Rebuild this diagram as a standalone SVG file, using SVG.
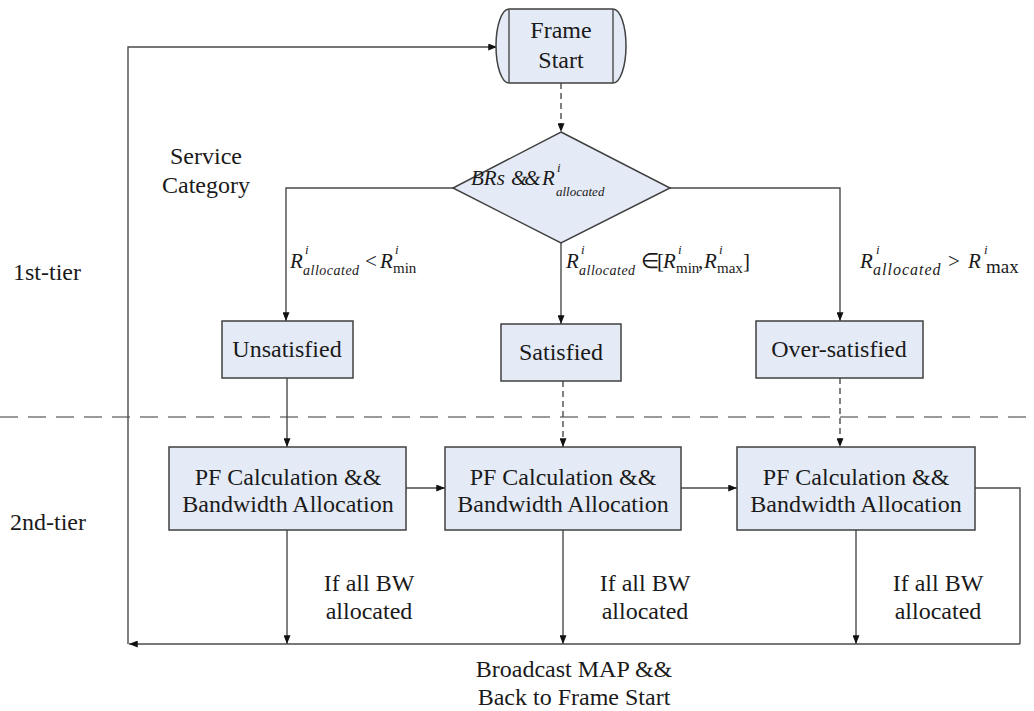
<svg xmlns="http://www.w3.org/2000/svg" width="1034" height="711" viewBox="0 0 1034 711">
  <style>
    .box { fill: #e5ebf6; stroke: #404040; stroke-width: 1.5; }
    .line { fill: none; stroke: #4a4a4a; stroke-width: 1.4; }
    .dash { stroke-dasharray: 6 4; }
    .sep { fill: none; stroke: #7a7a7a; stroke-width: 1.5; stroke-dasharray: 18 10; }
    text { font-family: 'Liberation Serif', 'Times New Roman', serif; fill: #1a1a1a; }
    .t { font-size: 24px; }
    .c { text-anchor: middle; }
    .mi { font-style: italic; font-size: 21px; }
    .mo { font-size: 21px; }
    .sup { font-style: italic; font-size: 13px; }
    .sub { font-style: italic; font-size: 14px; letter-spacing: 0.5px; }
    .sub3 { font-style: italic; font-size: 16px; letter-spacing: 1px; }
    .subr { font-size: 15px; }
  </style>
  <defs>
    <marker id="arr" viewBox="0 0 10 8" refX="10" refY="4" markerWidth="9" markerHeight="7" markerUnits="userSpaceOnUse" orient="auto">
      <path d="M0,0 L10,4 L0,8 Z" fill="#111"/>
    </marker>
  </defs>

  <rect width="1034" height="711" fill="#ffffff"/>

  <!-- tier separator -->
  <line class="sep" x1="0" y1="417" x2="1034" y2="417"/>

  <!-- connectors -->
  <g id="connectors">
    <path class="line" d="M128,644 V47 H497" marker-end="url(#arr)"/>
    <path class="line dash" d="M561,83 V132" marker-end="url(#arr)"/>
    <path class="line" d="M453,188 H286 V321" marker-end="url(#arr)"/>
    <path class="line" d="M561,243 V324" marker-end="url(#arr)"/>
    <path class="line" d="M670,188 H840 V321" marker-end="url(#arr)"/>
    <path class="line" d="M287,378 V447" marker-end="url(#arr)"/>
    <path class="line dash" d="M563,381 V447" marker-end="url(#arr)"/>
    <path class="line dash" d="M840,378 V447" marker-end="url(#arr)"/>
    <path class="line" d="M406,488 H445" marker-end="url(#arr)"/>
    <path class="line" d="M681,488 H737" marker-end="url(#arr)"/>
    <path class="line" d="M975,488 H1020 V644"/>
    <path class="line" d="M287,530 V644" marker-end="url(#arr)"/>
    <path class="line" d="M563,530 V644" marker-end="url(#arr)"/>
    <path class="line" d="M856,530 V644" marker-end="url(#arr)"/>
    <path class="line" d="M1020,644 H129" marker-end="url(#arr)"/>
  </g>

  <!-- start terminal -->
  <g id="frame-start">
    <path class="box" d="M509,9 H613 A13,37 0 0 1 613,83 H509 A13,37 0 0 1 509,9 Z"/>
    <line class="line" x1="509" y1="9" x2="509" y2="83"/>
    <line class="line" x1="613" y1="9" x2="613" y2="83"/>
    <text class="t c" x="561" y="38">Frame</text>
    <text class="t c" x="561" y="68">Start</text>
  </g>

  <!-- decision -->
  <g id="decision">
    <path class="box" d="M561,132 L670,188 L561,243 L453,188 Z"/>
    <text class="mi" x="471" y="185" font-size="22">BRs</text>
    <text class="mi" x="511" y="185" letter-spacing="-3">&amp;&amp;</text>
    <text class="mi" x="542" y="185">R</text>
    <text class="sup" x="557" y="172">i</text>
    <text class="sub" x="556" y="196" style="font-size:13px;letter-spacing:0">allocated</text>
  </g>

  <g id="label-service">
    <text class="t c" x="206" y="164">Service</text>
    <text class="t c" x="206" y="193">Category</text>
  </g>
  <text class="t" x="13" y="280">1st-tier</text>
  <text class="t" x="10" y="530">2nd-tier</text>

  <!-- branch conditions -->
  <g id="cond-under">
    <text class="mi" x="290" y="268">R</text>
    <text class="sup" x="305" y="254">i</text>
    <text class="sub" x="303" y="275">allocated</text>
    <text class="mo" x="365" y="268">&lt;</text>
    <text class="mi" x="380" y="268">R</text>
    <text class="sup" x="395" y="254">i</text>
    <text class="subr" x="393" y="273">min</text>
  </g>
  <g id="cond-within">
    <text class="mi" x="566" y="268">R</text>
    <text class="sup" x="581" y="254">i</text>
    <text class="sub" x="579" y="275">allocated</text>
    <text class="mo" x="641" y="268">∈</text>
    <text class="mo" x="657" y="268">[</text>
    <text class="mi" x="663" y="268">R</text>
    <text class="sup" x="678" y="254">i</text>
    <text class="subr" x="676" y="273">min</text>
    <text class="mo" x="698" y="268">,</text>
    <text class="mi" x="704" y="268">R</text>
    <text class="sup" x="719" y="254">i</text>
    <text class="subr" x="717" y="273">max</text>
    <text class="mo" x="743" y="268">]</text>
  </g>
  <g id="cond-over">
    <text class="mi" x="860" y="268">R</text>
    <text class="sup" x="876" y="254">i</text>
    <text class="sub3" x="873" y="275">allocated</text>
    <text class="mo" x="948" y="268">&gt;</text>
    <text class="mi" x="968" y="268">R</text>
    <text class="sup" x="984" y="254">i</text>
    <text class="subr" x="986" y="273" style="font-size:19px">max</text>
  </g>

  <!-- first tier classes -->
  <g id="unsatisfied">
    <rect class="box" x="222" y="321" width="131" height="57"/>
    <text class="t c" x="287" y="357">Unsatisfied</text>
  </g>
  <g id="satisfied">
    <rect class="box" x="501" y="324" width="120" height="57"/>
    <text class="t c" x="561" y="360">Satisfied</text>
  </g>
  <g id="over-satisfied">
    <rect class="box" x="756" y="321" width="167" height="57"/>
    <text class="t c" x="839" y="357">Over-satisfied</text>
  </g>

  <!-- second tier allocation -->
  <g id="pf-1">
    <rect class="box" x="169" y="447" width="237" height="83"/>
    <text class="t c" x="288" y="485">PF Calculation &amp;&amp;</text>
    <text class="t c" x="288" y="512">Bandwidth Allocation</text>
  </g>
  <g id="pf-2">
    <rect class="box" x="445" y="447" width="236" height="83"/>
    <text class="t c" x="563" y="485">PF Calculation &amp;&amp;</text>
    <text class="t c" x="563" y="512">Bandwidth Allocation</text>
  </g>
  <g id="pf-3">
    <rect class="box" x="737" y="447" width="238" height="83"/>
    <text class="t c" x="856" y="485">PF Calculation &amp;&amp;</text>
    <text class="t c" x="856" y="512">Bandwidth Allocation</text>
  </g>

  <g id="done-labels">
    <text class="t c" x="369" y="591">If all BW</text>
    <text class="t c" x="369" y="619">allocated</text>
    <text class="t c" x="645" y="591">If all BW</text>
    <text class="t c" x="645" y="619">allocated</text>
    <text class="t c" x="938" y="591">If all BW</text>
    <text class="t c" x="938" y="619">allocated</text>
  </g>
  <g id="loop-label">
    <text class="t c" x="574" y="677">Broadcast MAP &amp;&amp;</text>
    <text class="t c" x="574" y="705">Back to Frame Start</text>
  </g>
</svg>
